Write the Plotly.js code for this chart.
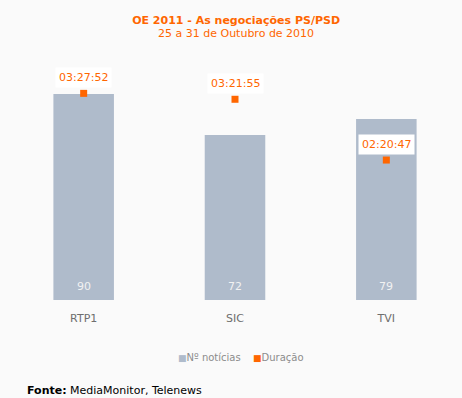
<!DOCTYPE html>
<html><head><meta charset="utf-8">
<script src="https://cdn.plot.ly/plotly-3.0.1.min.js"></script>
<style>html,body{margin:0;padding:0;background:#FAFAFA;}</style>
</head><body>
<div id="chart" style="width:462px;height:398px;"></div>
<script>
const categories = ["RTP1", "SIC", "TVI"];
const noticias = [90, 72, 79];
const duracaoLabels = ["03:27:52", "03:21:55", "02:20:47"];
const duracaoSeconds = [12472, 12115, 8447];
const seriesNames = ["Nº notícias", "Duração"];

const font = "DejaVu Sans, Verdana, sans-serif";
const orange = "#FF6600";
const grey = "#AFBBCB";

const traces = [
  {
    type: "bar", name: seriesNames[0], x: categories, y: noticias,
    marker: {color: grey}, width: 0.4, hoverinfo: "skip", showlegend: false
  },
  {
    type: "scatter", mode: "markers", name: seriesNames[1], x: categories, y: duracaoSeconds,
    yaxis: "y2", marker: {symbol: "square", size: 7, color: orange}, hoverinfo: "skip", showlegend: false
  }
];

const W = 462, H = 398, ml = 8, mr = 0, mt = 71, mb = 98;
const pw = W - ml - mr, ph = H - mt - mb;
const px = x => (x - ml) / pw;
const py = y => (H - mb - y) / ph;

const annotations = [];
categories.forEach((c, i) => {
  annotations.push({
    x: c, y: 0, xref: "x", yref: "y", text: String(noticias[i]),
    showarrow: false, yanchor: "bottom", yshift: 5,
    font: {family: font, size: 11, color: "#F2F2F2"}
  });
  annotations.push({
    x: c, y: duracaoSeconds[i], xref: "x", yref: "y2", text: duracaoLabels[i],
    showarrow: false, yanchor: "middle", yshift: 16, bgcolor: "#FFFFFF", borderpad: 3,
    font: {family: font, size: 11, color: orange}
  });
});
// subtitle
annotations.push({
  xref: "paper", yref: "paper", x: px(236), y: py(34), yanchor: "middle",
  text: "25 a 31 de Outubro de 2010",
  showarrow: false, font: {family: font, size: 11, color: orange}
});
// legend (text-based)
const legendColors = [grey, orange];
const legendX = [176, 251];
seriesNames.forEach((n, i) => {
  annotations.push({
    xref: "paper", yref: "paper", x: px(legendX[i]), y: py(357), xanchor: "left", yanchor: "middle",
    text: "<span style='color:" + legendColors[i] + ";font-size:9px'>■</span>" + n,
    showarrow: false, font: {family: font, size: 10, color: "#8C8C8C"}
  });
});
// source
annotations.push({
  xref: "paper", yref: "paper", x: px(25), y: py(390), xanchor: "left", yanchor: "middle",
  text: "<b>Fonte:</b> MediaMonitor, Telenews",
  showarrow: false, font: {family: font, size: 11, color: "#000000"}
});

const layout = {
  width: W, height: H,
  margin: {l: ml, r: mr, t: mt, b: mb, pad: 0},
  paper_bgcolor: "#FAFAFA", plot_bgcolor: "#FAFAFA",
  title: {
    text: "<b>OE 2011 - As negociações PS/PSD</b>",
    font: {family: font, size: 11, color: orange},
    x: 0.511, xanchor: "center", y: 1 - 20 / H, yanchor: "middle"
  },
  showlegend: false,
  xaxis: {
    type: "category", range: [-0.5, 2.5], showgrid: false, zeroline: false, showline: false,
    ticks: "", ticklabelstandoff: 10,
    tickfont: {family: font, size: 11, color: "#6E6E6E"}
  },
  yaxis: {range: [0, 100], visible: false, showgrid: false, zeroline: false},
  yaxis2: {range: [0, 13822], overlaying: "y", side: "right", visible: false, showgrid: false, zeroline: false},
  annotations: annotations
};

Plotly.newPlot("chart", traces, layout, {displayModeBar: false, staticPlot: true});
</script>
</body></html>
